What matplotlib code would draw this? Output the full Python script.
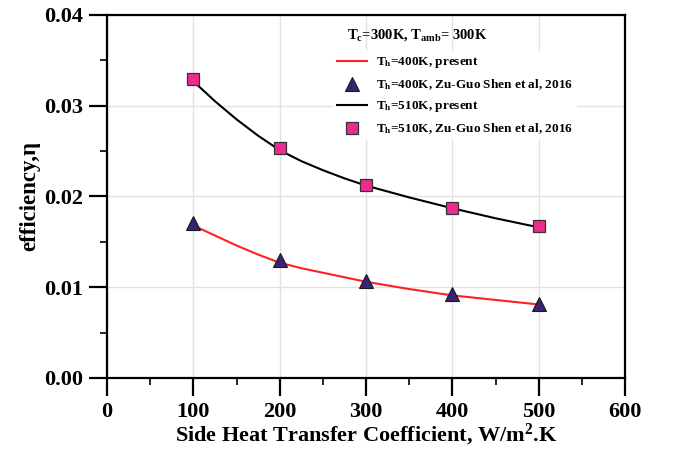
"""Side heat transfer coefficient vs efficiency, present model vs Zu-Guo Shen et al (2016)."""

import matplotlib
matplotlib.use("Agg")
import matplotlib.pyplot as plt
from matplotlib.ticker import MultipleLocator

# ---------------------------------------------------------------------------
# Data
# ---------------------------------------------------------------------------
h_model = [100, 125, 150, 175, 200, 225, 250, 275, 300, 350, 400, 450, 500]
eta_400_present = [0.0168, 0.0157, 0.0146, 0.0136, 0.0127, 0.0121, 0.0116,
                   0.0111, 0.0106, 0.0098, 0.0091, 0.0086, 0.0081]
eta_510_present = [0.0327, 0.0305, 0.0285, 0.0267, 0.0251, 0.0239, 0.0229,
                   0.0220, 0.0212, 0.0199, 0.0187, 0.0176, 0.0166]

h_shen = [100, 200, 300, 400, 500]
eta_400_shen = [0.0171, 0.0130, 0.0107, 0.0092, 0.0082]
eta_510_shen = [0.0329, 0.0253, 0.0213, 0.0187, 0.0167]

plt.rcParams["font.family"] = ["Liberation Serif", "DejaVu Serif"]
plt.rcParams["font.weight"] = "bold"
plt.rcParams["mathtext.fontset"] = "custom"
plt.rcParams["mathtext.rm"] = "Liberation Serif:bold"
plt.rcParams["mathtext.it"] = "Liberation Serif:bold"
plt.rcParams["mathtext.bf"] = "Liberation Serif:bold"

fig = plt.figure(figsize=(6.76, 4.57), dpi=100)
ax = fig.add_axes([0.1583, 0.1729, 0.7663, 0.7943])

ax.grid(True, which="major", color="#e2e2e2", linewidth=1.0, zorder=0)
ax.set_axisbelow(True)

ax.plot(h_model, eta_400_present, color="#ff2020", lw=1.5, zorder=3,
        label=r"$\mathrm{T_{h}}$=400K, present")
ax.plot(h_shen, eta_400_shen, ls="none", marker="^", ms=10, mfc="#3a2272",
        mec="#1a1a1a", mew=0.8, zorder=4,
        label=r"$\mathrm{T_{h}}$=400K, Zu-Guo Shen et al, 2016")
ax.plot(h_model, eta_510_present, color="black", lw=1.5, zorder=3,
        label=r"$\mathrm{T_{h}}$=510K, present")
ax.plot(h_shen, eta_510_shen, ls="none", marker="s", ms=9, mfc="#ee2a8c",
        mec="#333333", mew=0.9, zorder=4,
        label=r"$\mathrm{T_{h}}$=510K, Zu-Guo Shen et al, 2016")

ax.set_xlim(0, 600)
ax.set_ylim(0, 0.04)
ax.xaxis.set_major_locator(MultipleLocator(100))
ax.xaxis.set_minor_locator(MultipleLocator(50))
ax.yaxis.set_major_locator(MultipleLocator(0.01))
ax.yaxis.set_minor_locator(MultipleLocator(0.005))
ax.yaxis.set_major_formatter(plt.FormatStrFormatter("%.2f"))

for s in ax.spines.values():
    s.set_linewidth(1.6)
ax.tick_params(which="major", direction="out", length=13, width=1.6,
               labelsize=16, pad=4, top=False, right=False)
ax.tick_params(which="minor", direction="out", length=5, width=1.2,
               top=False, right=False)

ax.set_xlabel(r"Side Heat Transfer Coefficient, W/m$^{2}$.K",
              fontsize=16, fontweight="bold", labelpad=0)
ax.set_ylabel("efficiency,η", fontsize=16.5, fontweight="bold", labelpad=3)

leg = ax.legend(loc="upper left", bbox_to_anchor=(0.436, 0.90), fontsize=9.5,
                frameon=True, facecolor="white", edgecolor="none", framealpha=1,
                handlelength=2.3, handletextpad=0.7, labelspacing=0.55,
                borderpad=0.3, borderaxespad=0)
leg.set_zorder(5)

ax.text(0.463, 0.945, r"$\mathrm{T_{c}}$=300K, $\mathrm{T_{amb}}$= 300K",
        transform=ax.transAxes, fontsize=10.5, fontweight="bold",
        va="center", ha="left", zorder=6)

fig.savefig("out.png", dpi=100)
